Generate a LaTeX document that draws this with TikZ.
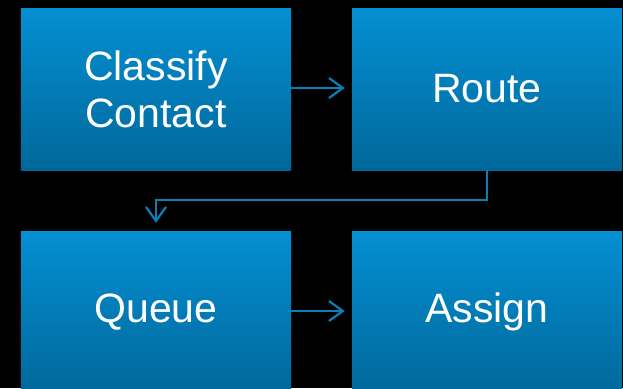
\documentclass[tikz,border=0pt]{standalone}
\usepackage{fontspec}
\setmainfont{Liberation Sans}
\usetikzlibrary{arrows.meta}
\definecolor{boxtop}{RGB}{4,143,210}
\definecolor{boxbot}{RGB}{0,104,155}
\definecolor{flow}{RGB}{10,128,185}
\tikzset{
  stepbox/.style={rectangle, inner sep=0pt, minimum width=270bp, minimum height=162bp,
    top color=boxtop, bottom color=boxbot, draw=none, text=white, align=center,
    font=\fontsize{41bp}{47bp}\selectfont},
  flowline/.style={draw=flow, line width=2.2bp, -{Straight Barb[length=14bp,width=20bp]}}
}
\begin{document}
\begin{tikzpicture}[x=1bp,y=-1bp]
  \fill[black] (0,0) rectangle (623,388);
  \useasboundingbox (0,0) rectangle (623,388);
  \begin{scope}
    \clip (0,0) rectangle (623,388);
    \node[stepbox] (classify) at (156,89) {Classify\\Contact};
    \node[stepbox] (route) at (487,89) {Route};
    \node[stepbox] (queue) at (156,312) {Queue};
    \node[stepbox] (assign) at (487,312) {Assign};
  \end{scope}
  \draw[flowline, shorten >=7bp] (classify.east |- 0,88) -- (route.west |- 0,88);
  \coordinate (bend) at (0,200);
  \draw[flowline, shorten >=8bp] (route.south) -- (route.south |- bend) -- (queue.north |- bend) -- (queue.north);
  \draw[flowline, shorten >=7bp] (queue.east |- 0,311) -- (assign.west |- 0,311);
\end{tikzpicture}
\end{document}
